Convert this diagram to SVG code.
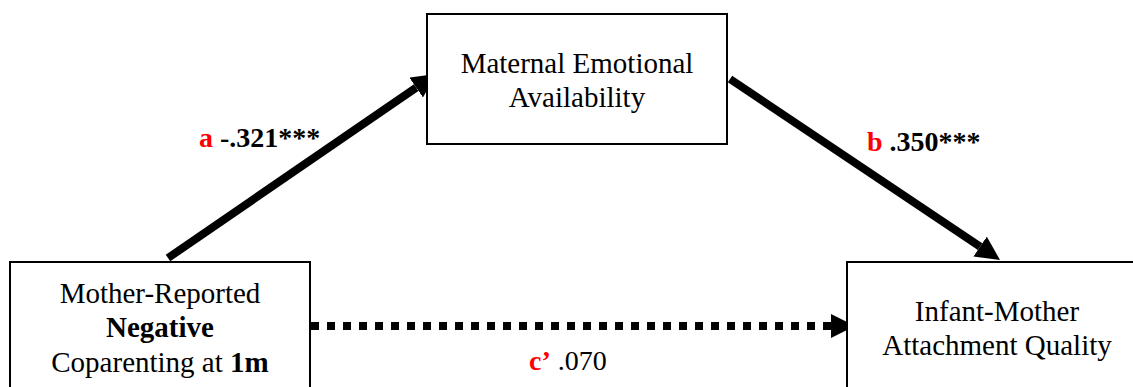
<svg xmlns="http://www.w3.org/2000/svg" width="1133" height="387" viewBox="0 0 1133 387">
<style>
.box{fill:#fff;stroke:#000;stroke-width:2}
.t{font-family:"Liberation Serif","Times New Roman",serif;font-size:29px;fill:#000;text-anchor:middle}
.lbl{font-family:"Liberation Serif","Times New Roman",serif;font-size:28px;fill:#000}
.b{font-weight:bold}
.red{fill:#ff0000;font-weight:bold}
.conn{stroke:#000;stroke-width:8;fill:none}
</style>
<defs>
<marker id="ah" viewBox="0 0 24 24" refX="0" refY="12" markerWidth="24" markerHeight="24" markerUnits="userSpaceOnUse" orient="auto">
<path d="M0,0 L24,12 L0,24 z" fill="#000"/>
</marker>
</defs>
<g id="connectors">
<line class="conn" x1="168" y1="258" x2="416.2" y2="87.6" marker-end="url(#ah)"/>
<line class="conn" x1="730" y1="79" x2="980.1" y2="246.6" marker-end="url(#ah)"/>
<line class="conn" x1="311" y1="326" x2="831" y2="326" stroke-dasharray="8 8" marker-end="url(#ah)"/>
</g>
<g id="node-mediator">
<rect class="box" x="427" y="14" width="300" height="130"/>
<text class="t" x="577" y="73">Maternal Emotional</text>
<text class="t" x="577" y="107">Availability</text>
</g>
<g id="node-predictor">
<rect class="box" x="10" y="262" width="300" height="140"/>
<text class="t" x="160" y="303">Mother-Reported</text>
<text class="t b" x="160" y="337">Negative</text>
<text class="t" x="160" y="372">Coparenting at <tspan class="b">1m</tspan></text>
</g>
<g id="node-outcome">
<rect class="box" x="847" y="262" width="300" height="140"/>
<text class="t" x="997" y="321">Infant-Mother</text>
<text class="t" x="997" y="355">Attachment Quality</text>
</g>
<g id="labels">
<text class="lbl b" x="199" y="147"><tspan class="red">a</tspan> -.321***</text>
<text class="lbl b" x="867" y="151"><tspan class="red">b</tspan> .350***</text>
<text class="lbl" x="529" y="370"><tspan class="red">c’</tspan> .070</text>
</g>
</svg>
